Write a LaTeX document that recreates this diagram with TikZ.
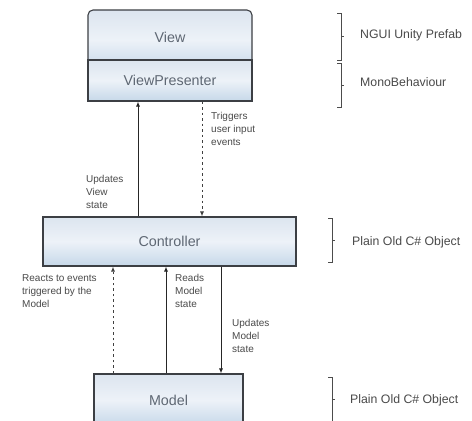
\documentclass[tikz,border=0pt]{standalone}
\usepackage{fontspec}
\setmainfont{Liberation Sans}
\usetikzlibrary{arrows.meta,calc}
\definecolor{boxtop}{HTML}{DCE5EF}
\definecolor{boxmid}{HTML}{EDF2F8}
\definecolor{boxbot}{HTML}{C6D8E9}
\definecolor{boxline}{HTML}{3C3F44}
\definecolor{boxtext}{HTML}{5E6773}
\definecolor{labeltext}{HTML}{4A4A4A}
\begin{document}
\begin{tikzpicture}[x=1pt,y=-1pt,
  box/.style={draw=boxline, line width=1.1pt, top color=boxtop, bottom color=boxbot, middle color=boxmid,
    inner sep=0pt, text=boxtext, font=\fontsize{14.3}{16}\selectfont},
  lbl/.style={anchor=north west, inner sep=0pt, align=left, text=labeltext, font=\fontsize{10}{13}\selectfont},
  side/.style={anchor=west, inner sep=0pt, text=labeltext, font=\fontsize{12.3}{14}\selectfont},
  solidarrow/.style={draw=black!85, line width=0.9pt, -{Latex[length=5pt,width=4pt]}},
  dasharrow/.style={draw=black!75, line width=0.9pt, dash pattern=on 2.5pt off 3pt, -{Latex[length=5pt,width=4pt]}},
  brace/.style={draw=black!70, line width=0.8pt}
]
\clip (0,0) rectangle (472,421);
\fill[white] (0,0) rectangle (472,421);

% boxes
\node[box, rounded corners=5pt, minimum width=164pt, minimum height=60pt] (view) at (170,40) {};
\node[text=boxtext, font=\fontsize{14.3}{16}\selectfont, inner sep=0pt] (viewtxt) at (170,37) {View};
\node[box, minimum width=164pt, minimum height=41pt] (vp) at (170,80.5) {ViewPresenter};
\node[box, minimum width=253pt, minimum height=49pt] (ctrl) at (169.5,241.5) {Controller};
\node[box, minimum width=149pt, minimum height=52pt] (model) at (168.5,400) {Model};

% connector x positions
\coordinate (xa) at (138,0);
\coordinate (xb) at (202,0);
\coordinate (xc) at (113,0);
\coordinate (xd) at (166,0);
\coordinate (xe) at (221,0);

\draw[solidarrow] (ctrl.north -| xa) -- (vp.south -| xa);
\draw[dasharrow] (vp.south -| xb) -- (ctrl.north -| xb);
\draw[dasharrow] (model.north -| xc) -- (ctrl.south -| xc);
\draw[solidarrow] (model.north -| xd) -- (ctrl.south -| xd);
\draw[solidarrow] (ctrl.south -| xe) -- (model.north -| xe);

% connector labels
\node[lbl] (l1) at (211,112) {Triggers\\user input\\events};
\node[lbl] (l2) at (86,175) {Updates\\View\\state};
\node[lbl] (l3) at (22,274) {Reacts to events\\triggered by the\\Model};
\node[lbl] (l4) at (175,274) {Reads\\Model\\state};
\node[lbl] (l5) at (232,319) {Updates\\Model\\state};

% side brackets
\draw[brace] (337,13) -- (341,13) -- (341,60) -- (337,60);
\draw[brace] (341,36) -- (344,36);
\draw[brace] (337,63) -- (341,63) -- (341,107) -- (337,107);
\draw[brace] (341,85) -- (344,85);
\draw[brace] (328,218) -- (332,218) -- (332,262) -- (328,262);
\draw[brace] (332,240) -- (335,240);
\draw[brace] (328,377) -- (332,377) -- (332,432) -- (328,432);
\draw[brace] (332,399) -- (335,399);

\node[side] (s1) at (360,35) {NGUI Unity Prefab};
\node[side] (s2) at (360,82) {MonoBehaviour};
\node[side] (s3) at (352,242) {Plain Old C\# Object};
\node[side] (s4) at (350,400) {Plain Old C\# Object};
\end{tikzpicture}
\end{document}
